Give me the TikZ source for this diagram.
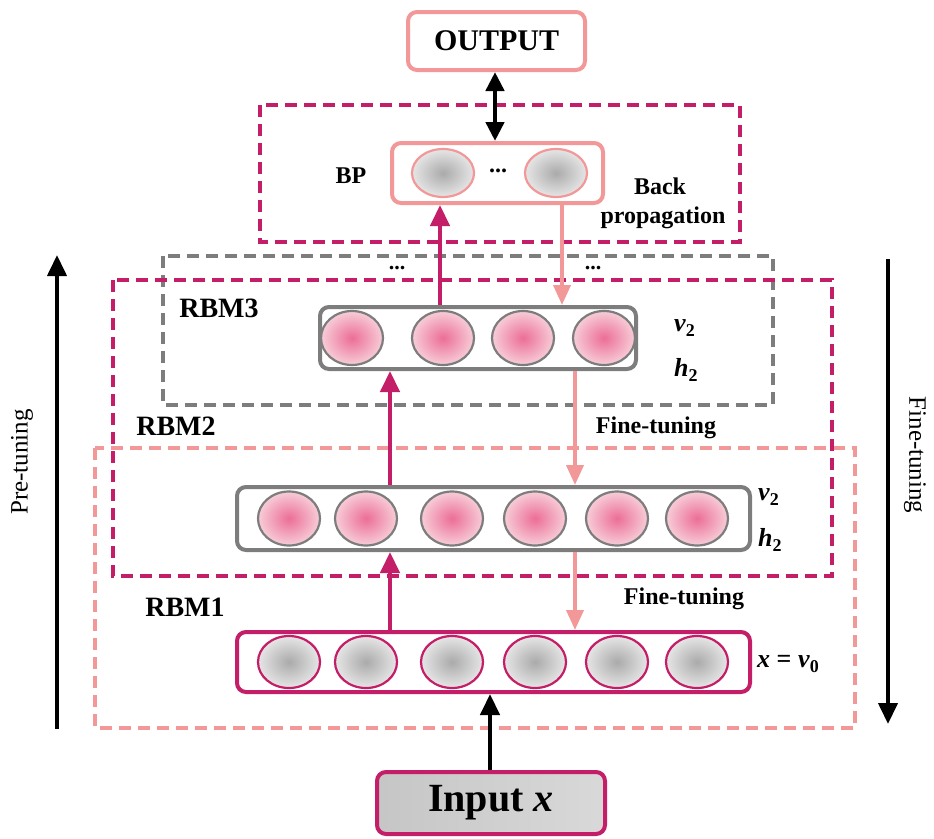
\documentclass[tikz,border=0pt]{standalone}
\usepackage{fontspec}
\setmainfont{Liberation Serif}
\usetikzlibrary{arrows.meta,shapes.geometric,calc}
\definecolor{mag}{RGB}{196,30,104}
\definecolor{salm}{RGB}{242,152,152}
\definecolor{grayb}{RGB}{125,125,125}
\definecolor{pinkin}{RGB}{236,110,150}
\definecolor{pinkout}{RGB}{247,205,216}
\definecolor{grayin}{RGB}{170,170,170}
\definecolor{grayout}{RGB}{230,230,230}
\newcommand\fs[1]{\fontsize{#1}{#1}\selectfont}
\newcommand\lblsub[2]{\textit{#1}\raisebox{-0.35ex}{\fs{18}#2}}
\begin{document}
\begin{tikzpicture}[x=1pt,y=-1pt,
  rowbox/.style={draw, rounded corners=9pt, line width=4pt, inner sep=0pt, fill=white},
  pinkc/.style={ellipse, draw=grayb, line width=2.2pt, minimum width=62pt, minimum height=54pt, inner sep=0pt, inner color=pinkin, outer color=pinkout},
  grayc/.style={ellipse, draw=mag, line width=2.2pt, minimum width=62pt, minimum height=52pt, inner sep=0pt, inner color=grayin, outer color=grayout},
  bpc/.style={ellipse, draw=salm, line width=2.2pt, minimum width=62pt, minimum height=48pt, inner sep=0pt, inner color=grayin, outer color=grayout},
  dbox/.style={line width=3.8pt, dash pattern=on 12pt off 7pt},
  magarr/.style={draw=mag, line width=4.5pt, -{Triangle[length=21pt,width=19pt]}},
  salarr/.style={draw=salm, line width=3.8pt, -{Triangle[length=20pt,width=17pt]}},
  blkarr/.style={draw=black, line width=4.5pt, -{Triangle[length=21pt,width=19pt]}},
  lab/.style={font=\fs{24}\bfseries, inner sep=0pt},
  rbm/.style={font=\fs{28}\bfseries, inner sep=0pt},
  mlab/.style={font=\fs{26}\bfseries, inner sep=0pt, anchor=west}
]
\useasboundingbox (0,0) rectangle (934,838);

% dashed group boxes
\draw[dbox, draw=salm] (95,448) rectangle (855,728);
\draw[dbox, draw=grayb] (163,256) rectangle (773,405);
\draw[dbox, draw=mag] (113,280) rectangle (832,576);
\draw[dbox, draw=mag] (260,105) rectangle (740,242);

% top boxes
\node[rowbox, draw=salm, minimum width=177pt, minimum height=58pt, font=\fs{30}\bfseries] (out) at (496.5,41) {OUTPUT};
\node[rowbox, draw=salm, minimum width=211pt, minimum height=60pt] (bp) at (497.5,173) {};
\node[bpc] (bp1) at (443,173) {};
\node[bpc] (bp2) at (556,173) {};
\node[font=\fs{24}\bfseries] (bpdots) at (498,173) {\raisebox{0.5ex}{...}};

% RBM3 row
\node[rowbox, draw=grayb, minimum width=316pt, minimum height=62pt] (r3) at (478,338) {};
\foreach \x [count=\i] in {352,443,523,604} \node[pinkc] (r3c\i) at (\x,338) {};

% middle row
\node[rowbox, draw=grayb, minimum width=513pt, minimum height=63pt] (r2) at (493.5,518.5) {};
\foreach \x [count=\i] in {289,366,452,535,617,697} \node[pinkc] (r2c\i) at (\x,518.5) {};

% bottom row
\node[rowbox, draw=mag, minimum width=513pt, minimum height=60pt] (r1) at (493.5,662) {};
\foreach \x [count=\i] in {289,366,452,535,617,697} \node[grayc] (r1c\i) at (\x,662) {};

% input
\node[draw=mag, line width=4pt, rounded corners=9pt, minimum width=228pt, minimum height=62pt,
      left color=gray!45, middle color=white, right color=gray!30, font=\fs{40}\bfseries] (inp) at (491,803) {Input \textit{x}};

% arrow columns
\coordinate (cA) at (440,0);
\coordinate (cB) at (390,0);
\coordinate (cC) at (562,0);
\coordinate (cD) at (575,0);
\coordinate (cE) at (495,0);
\coordinate (cF) at (490,0);

\draw[draw=black, line width=4.5pt, {Triangle[length=19pt,width=18pt]}-{Triangle[length=19pt,width=18pt]}] (out.south -| cE) -- (bp.north -| cE);
\draw[magarr] (r3.north -| cA) -- (bp.south -| cA);
\draw[salarr] (bp.south -| cC) -- (r3.north -| cC);
\draw[magarr] (r2.north -| cB) -- (r3.south -| cB);
\draw[salarr] (r3.south -| cD) -- (r2.north -| cD);
\draw[magarr] (r1.north -| cB) -- (r2.south -| cB);
\draw[salarr] (r2.south -| cD) -- (r1.north -| cD);
\draw[blkarr] (inp.north -| cF) -- (r1.south -| cF);

% side arrows
\coordinate (lb) at (57,729);
\coordinate (lt) at (57,255);
\coordinate (rt) at (888,259);
\coordinate (rb) at (888,724);
\draw[blkarr, line width=4pt] (lb) -- (lt);
\draw[blkarr, line width=4pt] (rt) -- (rb);
\node[rotate=90, font=\fs{25}, inner sep=0pt] (pre) at (22,462) {Pre-tuning};
\node[rotate=-90, font=\fs{25}, inner sep=0pt] (fine) at (915,455) {Fine-tuning};

% labels
\node[lab] (bpl) at (351,176) {BP};
\node[lab] (back) at (660,186) {Back};
\node[lab] (prop) at (663,218) {propagation};
\node[font=\fs{22}\bfseries, inner sep=0pt] (d1) at (397,268) {...};
\node[font=\fs{22}\bfseries, inner sep=0pt] (d2) at (593,268) {...};
\node[rbm] (l3) at (219,308) {RBM3};
\node[rbm] (l2) at (176,426) {RBM2};
\node[rbm] (l1) at (185,607) {RBM1};
\node[lab] (ft1) at (656,428) {Fine-tuning};
\node[lab] (ft2) at (684,599) {Fine-tuning};
\node[mlab] (v3) at (674,328) {\lblsub{v}{2}};
\node[mlab] (h3) at (674,370) {\lblsub{h}{2}};
\node[mlab] (v2) at (758,497) {\lblsub{v}{2}};
\node[mlab] (h2) at (758,540) {\lblsub{h}{2}};
\node[mlab] (x0) at (757,664) {\textit{x} = \lblsub{v}{0}};
\end{tikzpicture}
\end{document}
